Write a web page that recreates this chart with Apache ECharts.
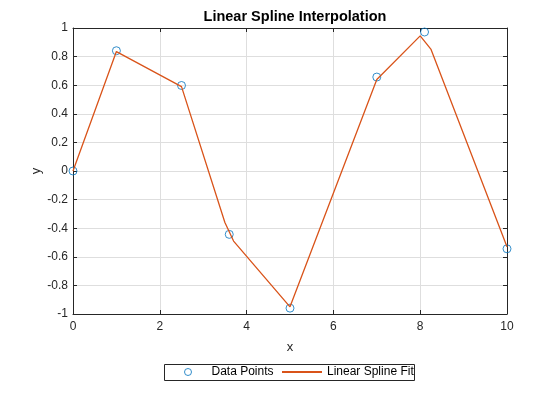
<!DOCTYPE html>
<html>
<head>
<meta charset="utf-8">
<script src="https://cdn.jsdelivr.net/npm/echarts@6/dist/echarts.min.js"></script>
<style>html,body{margin:0;padding:0;background:#fff}#c{width:560px;height:420px}</style>
</head>
<body>
<div id="c"></div>
<script>
const dataX = [0, 1, 2.5, 3.6, 5, 7, 8.1, 10];
const dataY = [0, 0.841, 0.598, -0.443, -0.959, 0.657, 0.972, -0.544];
const fitX = [0, 1, 2.5, 3.5, 3.7, 5, 7, 8, 8.25, 10];
const fitY = [0, 0.835, 0.59, -0.36, -0.49, -0.95, 0.64, 0.945, 0.85, -0.53];
const titleText = 'Linear Spline Interpolation';
const seriesNames = ['Data Points', 'Linear Spline Fit'];

const pts = dataX.map((x, i) => [x, dataY[i]]);
const fit = fitX.map((x, i) => [x, fitY[i]]);
const txt = '#262626';
const font = 'Liberation Sans';
const ax = {
  axisLine: {show: true, onZero: false, lineStyle: {color: txt, width: 1}},
  axisTick: {show: true, inside: true, length: 4, lineStyle: {color: txt}},
  splitLine: {show: false}
};
const legendText = {fontSize: 12, color: '#000', fontFamily: font};
const chart = echarts.init(document.getElementById('c'));
chart.setOption({
  animation: false,
  textStyle: {fontFamily: font},
  title: {text: titleText, left: 290, textAlign: 'center', top: 4,
    textStyle: {fontSize: 14.5, fontWeight: 'bold', color: '#000', fontFamily: font}},
  grid: {left: 73, right: 53, top: 28, bottom: 106},
  legend: [
    {
      data: [{name: seriesNames[0], icon: 'circle',
        itemStyle: {color: 'rgba(255,255,255,0)', borderColor: '#0072BD', borderWidth: 1}}],
      top: 366, left: 184, itemWidth: 7, itemHeight: 7, padding: 0,
      textStyle: Object.assign({padding: [0, 0, 0, 15]}, legendText)
    },
    {
      data: [{name: seriesNames[1],
        itemStyle: {color: 'rgba(255,255,255,0)', borderColor: 'rgba(255,255,255,0)', borderWidth: 0}}],
      top: 366, left: 281, itemWidth: 40, itemHeight: 7, padding: 0,
      textStyle: legendText
    }
  ],
  graphic: [{
    type: 'rect', silent: true,
    shape: {x: 164.5, y: 364.5, width: 250, height: 16},
    style: {fill: 'none', stroke: txt, lineWidth: 1}
  }],
  xAxis: [
    Object.assign({}, ax, {type: 'value', min: 0, max: 10, interval: 2, position: 'bottom',
      name: 'x', nameLocation: 'middle', nameGap: 27, nameMoveOverlap: false,
      nameTextStyle: {fontSize: 13, color: txt},
      axisLabel: {fontSize: 12, color: txt, margin: 7},
      splitLine: {show: true, lineStyle: {color: '#dedede'}}}),
    Object.assign({}, ax, {type: 'value', min: 0, max: 10, interval: 2, position: 'top',
      axisLabel: {show: false}})
  ],
  yAxis: [
    Object.assign({}, ax, {type: 'value', min: -1, max: 1, interval: 0.2, position: 'left',
      name: 'y', nameLocation: 'middle', nameGap: 30, nameRotate: 90, nameMoveOverlap: false,
      nameTextStyle: {fontSize: 13, color: txt},
      axisLabel: {fontSize: 12, color: txt, margin: 5,
        formatter: v => String(Math.round(v * 10) / 10)},
      splitLine: {show: true, lineStyle: {color: '#dedede'}}}),
    Object.assign({}, ax, {type: 'value', min: -1, max: 1, interval: 0.2, position: 'right',
      axisLabel: {show: false}})
  ],
  series: [
    {name: seriesNames[0], type: 'scatter', data: pts, symbol: 'circle', symbolSize: 8, z: 3,
      itemStyle: {color: 'rgba(255,255,255,0)', borderColor: '#0072BD', borderWidth: 1}},
    {name: seriesNames[1], type: 'line', data: fit, symbol: 'none', showSymbol: false, z: 4,
      lineStyle: {color: '#D95319', width: 1.3}, itemStyle: {color: '#D95319'}}
  ]
});
</script>
</body>
</html>
